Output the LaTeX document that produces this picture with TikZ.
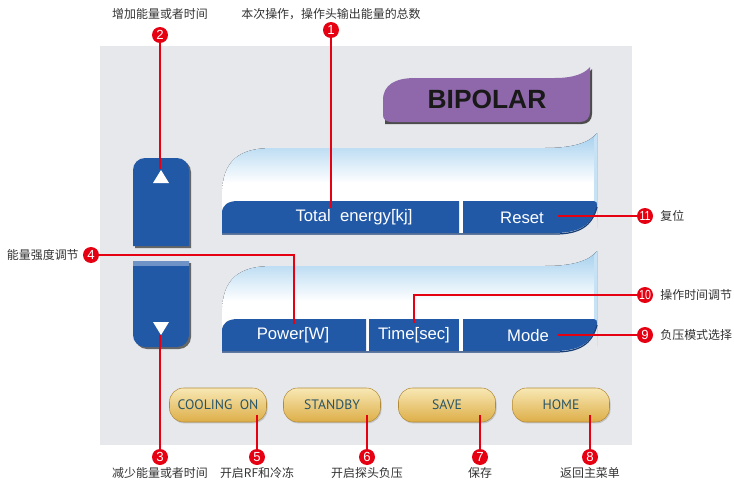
\documentclass[tikz,border=0pt]{standalone}
\usepackage{fontspec}
\setmainfont{Liberation Sans}
\newfontfamily\cjk{Noto Sans CJK SC}
\newfontfamily\keyfont{PT Sans}
\usetikzlibrary{shadows}

\definecolor{panelgray}{HTML}{E7E8EC}
\definecolor{btnblue}{HTML}{2259A7}
\definecolor{panelblue}{HTML}{A3CFEE}
\definecolor{bipurple}{HTML}{8F68AB}
\definecolor{goldtop}{HTML}{F8E8B4}
\definecolor{goldbot}{HTML}{DDAE48}
\definecolor{goldtext}{HTML}{2A5566}
\definecolor{calloutred}{HTML}{E50012}
\definecolor{notegray}{HTML}{333333}

\tikzset{
  callout/.style={circle, fill=calloutred, text=white, inner sep=0pt, minimum size=0.32cm,
    font=\fontsize{7.5}{8}\selectfont},
  lead/.style={draw=calloutred, line width=0.6pt},
  note/.style={font=\cjk\fontsize{6.8}{8}\selectfont, text=notegray, inner sep=0pt},
  goldbtn/.style={rounded corners=0.28cm, minimum width=1.94cm, minimum height=0.68cm,
    top color=goldtop, bottom color=goldbot, draw=goldbot!80!black, line width=0.3pt,
    font=\keyfont\fontsize{7.8}{9}\selectfont, text=goldtext,
    drop shadow={shadow xshift=0.6pt, shadow yshift=-0.8pt, opacity=0.35}},
  bartext/.style={text=white, inner sep=0pt, font=\fontsize{9.5}{11}\selectfont},
}

% light display window, shifted down by #1 pixels
\newcommand\lcdback[1]{%
  \fill[shift={(0,#1)}, top color=panelblue, bottom color=white, middle color=white]
    (222,233) -- (222,195) .. controls (222,160) and (240,148) .. (272,148)
    -- (545,148) .. controls (575,148) and (590,142) .. (597,133)
    -- (597,206) -- (597,233) -- cycle;
  \fill[shift={(0,#1)}, panelblue!60!white] (594,138) -- (597,133) -- (597,206) -- (594,206) -- cycle;
  \fill[shift={(0,#1)}, panelgray] (597,206) .. controls (592,226) and (578,233) .. (555,233)
    -- (598,236) -- cycle;
  \fill[shift={(0,#1)}, btnblue] (463,201) -- (594,201) .. controls (597,201) and (597,203) .. (597,206)
    .. controls (592,226) and (578,233) .. (555,233) -- (463,233) -- cycle;
  \draw[shift={(0,#1)}, btnblue!70!black, line width=0.7pt]
    (222,234) -- (555,234) .. controls (578,234) and (592,227) .. (597,207);
}

\begin{document}
\begin{tikzpicture}[x=0.02cm, y=-0.02cm]
  %%%%% START %%%%%
  \useasboundingbox (0,0) rectangle (734,480);
  \fill[white] (0,0) rectangle (734,480);
  \fill[panelgray] (100,46) rectangle (632,445);

  % BIPOLAR tab
  \fill[black!70] (385,124) -- (385,102)
    .. controls (385,87) and (397,80) .. (417,80) -- (557,80) .. controls (577,80) and (587,75) .. (592,69)
    -- (592,114) .. controls (592,120) and (588,124) .. (582,124) -- cycle;
  \fill[bipurple] (391,122) .. controls (386,122) and (383,119) .. (383,115) -- (383,100)
    .. controls (383,85) and (395,78) .. (415,78) -- (555,78) .. controls (575,78) and (585,73) .. (590,67)
    -- (590,112) .. controls (590,118) and (586,122) .. (580,122) -- cycle;
  \node[font=\fontsize{15}{16}\selectfont\bfseries, text=black!90] (bipolar) at (487,99) {BIPOLAR};

  % up / down keys
  \fill[black!60] (135,248) [rounded corners=0.24cm] -- (135,160) -- (191,160) [sharp corners] -- (191,248) -- cycle;
  \fill[btnblue] (133,246) [rounded corners=0.24cm] -- (133,158) -- (189,158) [sharp corners] -- (189,246) -- cycle;
  \fill[white] (153,183) -- (169,183) -- (161,170) -- cycle;
  \fill[black!60] (135,263) -- (191,263) [rounded corners=0.24cm] -- (191,349) -- (135,349) [sharp corners] -- cycle;
  \fill[btnblue] (133,261) -- (189,261) [rounded corners=0.24cm] -- (189,347) -- (133,347) [sharp corners] -- cycle;
  \fill[btnblue!65!white] (133,261) rectangle (189,266);
  \fill[white] (153,322) -- (169,322) -- (161,335) -- cycle;

  % upper display
  \lcdback{0}
  \fill[btnblue] (222,233) -- (222,213) .. controls (222,205) and (228,201) .. (238,201) -- (459,201) -- (459,233) -- cycle;
  \node[bartext] (total) at (354,217) {Total\ \ energy[kj]};
  \node[bartext] (reset) at (522,218) {Reset};

  % lower display
  \lcdback{118}
  \fill[btnblue] (222,351) -- (222,331) .. controls (222,323) and (228,319) .. (238,319) -- (366,319) -- (366,351) -- cycle;
  \fill[btnblue] (369,319) rectangle (459,351);
  \node[bartext] (power) at (293,335) {Power[W]};
  \node[bartext] (time) at (414,335) {Time[sec]};
  \node[bartext] (mode) at (528,336) {Mode};

  % soft keys
  \node[goldbtn] (cooling) at (218,405) {COOLING\ \ ON};
  \node[goldbtn] (standby) at (332,405) {STANDBY};
  \node[goldbtn] (save) at (447,405) {SAVE};
  \node[goldbtn] (home) at (561,405) {HOME};

  % callouts
  \node[callout] (m1) at (331,30) {1};
  \node[callout] (m2) at (160,35) {2};
  \node[callout] (m3) at (160,457) {3};
  \node[callout] (m4) at (91,255) {4};
  \node[callout] (m5) at (257,457) {5};
  \node[callout] (m6) at (367,457) {6};
  \node[callout] (m7) at (480,457) {7};
  \node[callout] (m8) at (590,457) {8};
  \node[callout] (m9) at (645,335) {9};
  \node[callout] (m10) at (645,295) {\scalebox{0.8}[1]{10}};
  \node[callout] (m11) at (645,216) {\scalebox{0.8}[1]{11}};

  \coordinate (e1) at (331,208);
  \coordinate (e2) at (160,169);
  \coordinate (e3) at (160,335);
  \coordinate (e4) at (294,324);
  \coordinate (e5) at (257,415);
  \coordinate (e6) at (367,415);
  \coordinate (e7) at (480,415);
  \coordinate (e8) at (590,415);
  \coordinate (e9) at (558,335);
  \coordinate (e10) at (414,323);
  \coordinate (e11) at (558,216);

  \draw[lead] (m1) -- (e1);
  \draw[lead] (m2) -- (e2);
  \draw[lead] (m3) -- (e3);
  \draw[lead] (m4) -| (e4);
  \draw[lead] (m5) -- (e5);
  \draw[lead] (m6) -- (e6);
  \draw[lead] (m7) -- (e7);
  \draw[lead] (m8) -- (e8);
  \draw[lead] (m9) -- (e9);
  \draw[lead] (m10) -| (e10);
  \draw[lead] (m11) -- (e11);

  % texts
  \node[note] (t1) at (331,14) {本次操作，操作头输出能量的总数};
  \node[note] (t2) at (160,14) {增加能量或者时间};
  \node[note] (t3) at (160,473) {减少能量或者时间};
  \node[note, anchor=east] (t4) at (79,255) {能量强度调节};
  \node[note] (t5) at (257,473) {开启RF和冷冻};
  \node[note] (t6) at (367,473) {开启探头负压};
  \node[note] (t7) at (480,473) {保存};
  \node[note] (t8) at (590,473) {返回主菜单};
  \node[note, anchor=west] (t9) at (660,335) {负压模式选择};
  \node[note, anchor=west] (t10) at (660,295) {操作时间调节};
  \node[note, anchor=west] (t11) at (660,216) {复位};
  %%%%% END %%%%%
\end{tikzpicture}
\end{document}
